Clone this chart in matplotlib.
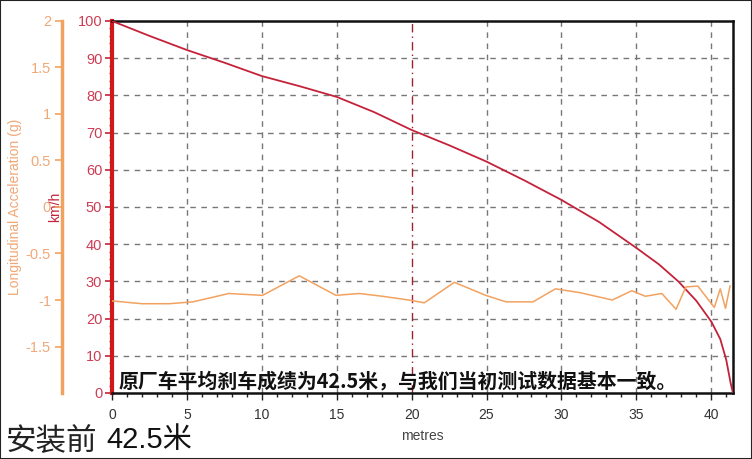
import numpy as np
import matplotlib
matplotlib.use("Agg")
import matplotlib.pyplot as plt
from matplotlib.ticker import MultipleLocator
from matplotlib.patches import Rectangle

# speed trace (km/h vs metres)
dist_m = [0, 2.5, 5, 7.5, 10, 12.5, 15, 17.5, 20, 22.5, 25, 27.5, 30, 32.5,
          35, 36.5, 37.8, 39, 40, 40.6, 41, 41.3, 41.45]
speed_kmh = [100, 96.0, 92.2, 88.8, 85.2, 82.5, 79.6, 75.5, 70.7, 66.6, 62.2,
             57.2, 51.9, 46.0, 39.0, 34.6, 30.0, 24.8, 19.2, 14.5, 8.9, 2.5, 0]

# longitudinal acceleration trace (g)
acc_m = [0, 2.0, 3.8, 5.4, 7.8, 8.9, 10.05, 12.5, 14.95, 16.5, 18.05, 19.8,
         20.85, 22.85, 24.95, 26.3, 28.1, 29.6, 31.2, 33.4, 34.7, 35.6, 36.7,
         37.65, 38.3, 39.1, 40.2, 40.6, 40.95, 41.25]
acc_g = [-1.01, -1.04, -1.04, -1.02, -0.93, -0.94, -0.95, -0.74, -0.95, -0.93,
         -0.96, -1.00, -1.03, -0.81, -0.95, -1.02, -1.02, -0.88, -0.92, -1.00,
         -0.90, -0.96, -0.93, -1.10, -0.86, -0.85, -1.08, -0.88, -1.09, -0.85]

KMH_TICKS = list(range(0, 101, 10))
ACC_TICKS = [-1.5, -1, -0.5, 0, 0.5, 1, 1.5, 2]
ACC_LABELS = ["-1.5", "-1", "-0.5", "0", "0.5", "1", "1.5", "2"]
X_TICKS = list(range(0, 41, 5))

RED = "#c4223a"
TICK_RED = "#cc3d55"
ORANGE = "#f2a260"
ACC_TXT = "#f0a877"

plt.rcParams["font.family"] = ["Liberation Sans", "Noto Sans CJK SC", "DejaVu Sans"]

fig = plt.figure(figsize=(7.52, 4.59), dpi=100)
ax = fig.add_axes([112 / 752, 66 / 459, 621 / 752, 372 / 459])

# grid
for v in KMH_TICKS[1:-1]:
    ax.axhline(v, color="#777777", lw=1, ls=(0, (4, 4)), zorder=1)
for v in X_TICKS[1:]:
    if v == 20:
        ax.axvline(v, color="#a02030", lw=1, ls=(0, (6, 3, 1, 3)), zorder=1)
    else:
        ax.axvline(v, color="#777777", lw=1, ls=(0, (4, 4)), zorder=1)

ax.plot(dist_m, speed_kmh, color=RED, lw=1.3, zorder=4)
ax.set_xlim(0, 41.45)
ax.set_ylim(0, 100)
ax.set_xticks(X_TICKS)
ax.xaxis.set_minor_locator(MultipleLocator(1))
ax.set_yticks(KMH_TICKS)
ax.yaxis.set_minor_locator(MultipleLocator(2))
ax.tick_params(axis="x", which="major", length=5, width=1, colors="#222222",
               labelsize=10, labelcolor="#333333", pad=6)
ax.tick_params(axis="x", which="minor", length=3, width=1, colors="#222222")
ax.tick_params(axis="y", which="major", length=5, width=1.2, colors=RED,
               labelsize=10.5, labelcolor=TICK_RED, pad=2)
ax.tick_params(axis="y", which="minor", length=2.5, width=1, colors=RED)
ax.spines["left"].set_color("#d01a1a")
ax.spines["left"].set_linewidth(3)
for sp in ("top", "right", "bottom"):
    ax.spines[sp].set_color("#111111")
    ax.spines[sp].set_linewidth(1.8)
ax.set_xlabel("metres", fontsize=10, color="#444444", labelpad=5)
ax.set_ylabel("km/h", fontsize=10, color=RED)
ax.yaxis.set_label_coords(-50 / 621, 0.5)

# acceleration axis, offset to the left (50 px = 36 pt)
ax2 = ax.twinx()
ax2.plot(acc_m, acc_g, color=ORANGE, lw=1.1, zorder=3)
ax2.set_ylim(-2, 2)
ax2.yaxis.set_ticks_position("left")
ax2.yaxis.set_label_position("left")
ax2.spines["left"].set_position(("outward", 36))
ax2.spines["left"].set_color(ORANGE)
ax2.spines["left"].set_linewidth(2.5)
for sp in ("top", "right", "bottom"):
    ax2.spines[sp].set_visible(False)
ax2.set_yticks(ACC_TICKS)
ax2.set_yticklabels(ACC_LABELS)
ax2.tick_params(axis="y", length=5, width=1.2, colors=ORANGE,
                labelsize=10.5, labelcolor=ACC_TXT, pad=3)
ax2.set_ylabel("Longitudinal Acceleration (g)", fontsize=10, color=ACC_TXT)
ax2.yaxis.set_label_coords(-90 / 621, 0.5)

ax2.text(0.01, 0.033, "原厂车平均刹车成绩为42.5米，与我们当初测试数据基本一致。",
         transform=ax.transAxes, fontsize=14.3, color="#111111",
         fontfamily=["Noto Sans CJK SC", "DejaVu Sans"], fontweight="bold",
         ha="left", va="center", zorder=6)

fig.text(6 / 752, 1 - 442 / 459, "安装前", fontsize=22, color="#222222",
         fontfamily=["Noto Sans CJK SC", "DejaVu Sans"], ha="left", va="center")
fig.text(106 / 752, 1 - 440 / 459, "42.5米", fontsize=21, color="#111111",
         fontfamily=["Liberation Sans", "Noto Sans CJK SC"], ha="left", va="center")

fig.patches.append(Rectangle((0, 0), 1, 1, transform=fig.transFigure,
                             fill=False, edgecolor="#222222", lw=1.5))

fig.savefig("out.png", dpi=100)
